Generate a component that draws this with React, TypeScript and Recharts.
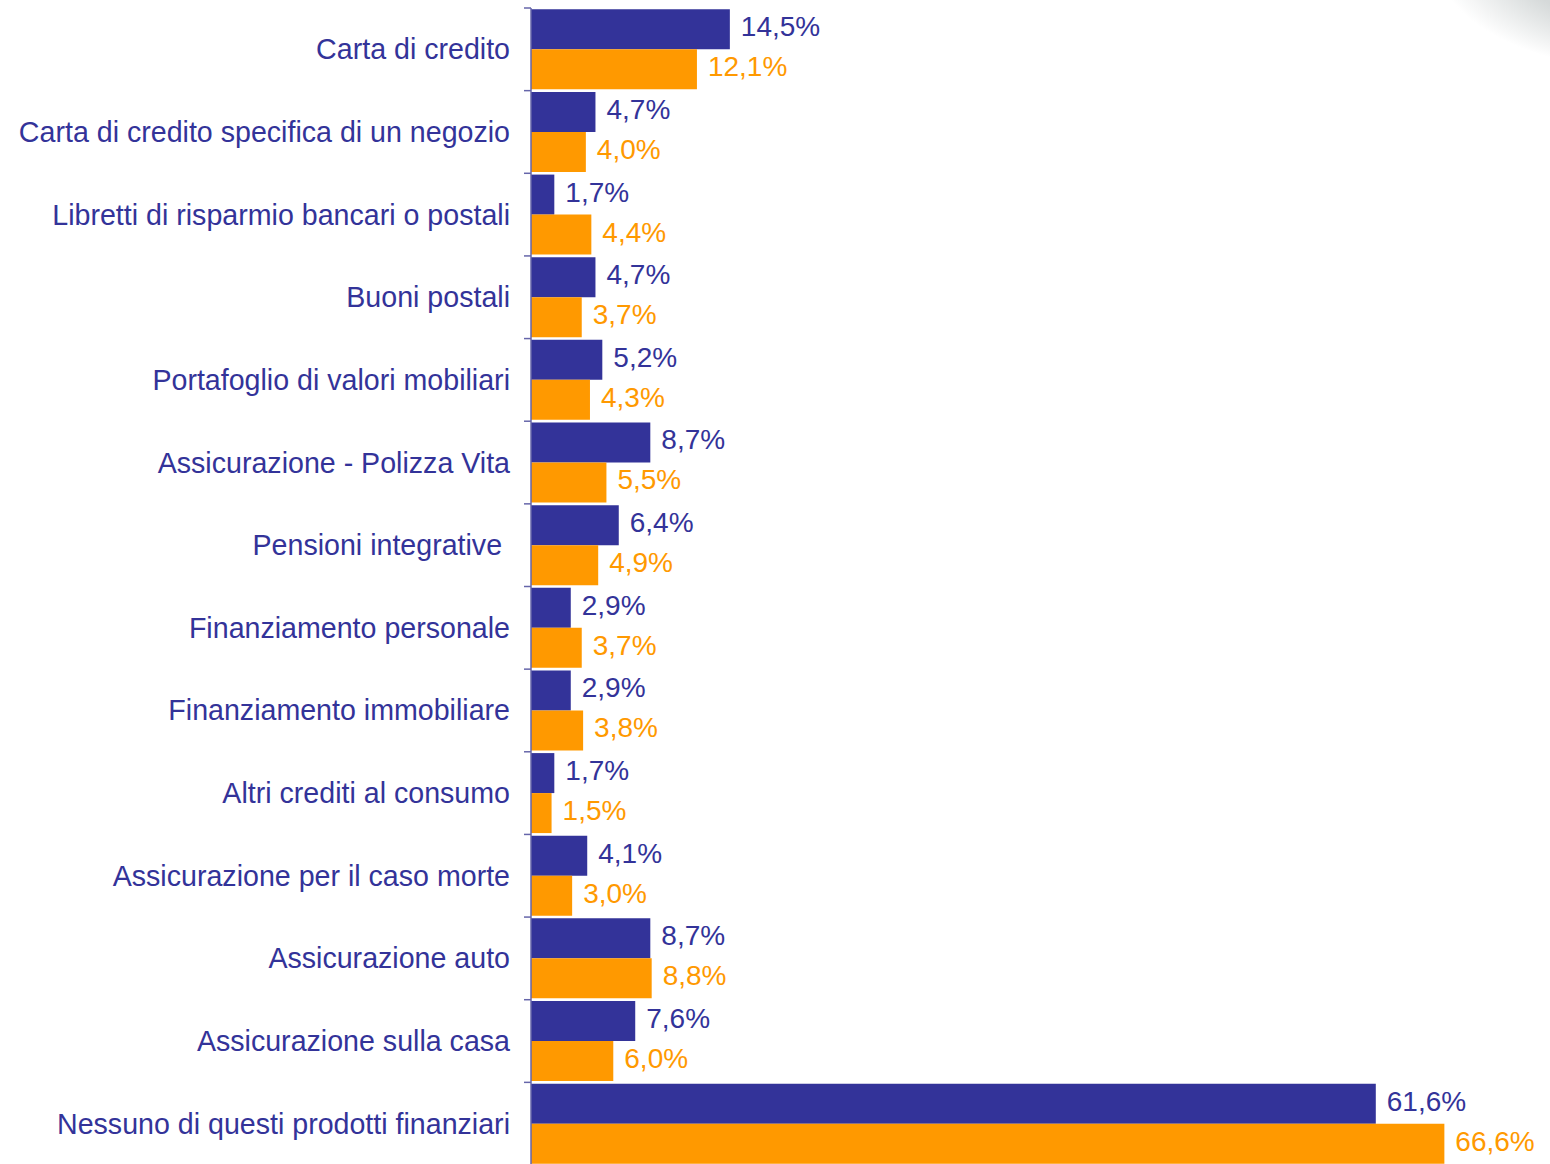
import { BarChart, Bar, XAxis, YAxis, LabelList } from "recharts";

const categories = [
  "Carta di credito",
  "Carta di credito specifica di un negozio",
  "Libretti di risparmio bancari o postali",
  "Buoni postali",
  "Portafoglio di valori mobiliari",
  "Assicurazione - Polizza Vita",
  "Pensioni integrative ",
  "Finanziamento personale",
  "Finanziamento immobiliare",
  "Altri crediti al consumo",
  "Assicurazione per il caso morte",
  "Assicurazione auto",
  "Assicurazione sulla casa",
  "Nessuno di questi prodotti finanziari",
];

const seriesA = [14.5, 4.7, 1.7, 4.7, 5.2, 8.7, 6.4, 2.9, 2.9, 1.7, 4.1, 8.7, 7.6, 61.6];
const seriesB = [12.1, 4.0, 4.4, 3.7, 4.3, 5.5, 4.9, 3.7, 3.8, 1.5, 3.0, 8.8, 6.0, 66.6];

const data = categories.map((name, i) => ({ name, a: seriesA[i], b: seriesB[i] }));

const NAVY = "#333399";
const ORANGE = "#FF9900";
const FONT = "'Liberation Sans', Arial, sans-serif";

const W = 1550;
const H = 1170;
const margin = { top: 8, right: 59, bottom: 5, left: 0 };
const band = (H - margin.top - margin.bottom) / categories.length;

const fmt = (v: number) => v.toFixed(1).replace(".", ",") + "%";

function CategoryTick(props: any) {
  const { x, y, payload } = props;
  return (
    <g>
      <line x1={x + 1} x2={x + 8} y1={y - band / 2} y2={y - band / 2} stroke="#6666aa" strokeWidth={1.5} />
      <text
        x={x - 13}
        y={y}
        textAnchor="end"
        dominantBaseline="central"
        fill={NAVY}
        fontSize={28.6}
        fontFamily={FONT}
        style={{ whiteSpace: "pre" }}
      >
        {payload.value}
      </text>
    </g>
  );
}

export default function App() {
  return (
    <div
      style={{
        position: "absolute",
        left: 0,
        top: 0,
        width: W,
        height: 1164,
        overflow: "hidden",
        background:
          "radial-gradient(ellipse 280px 140px at 1660px -40px, #d5d9d9 50%, rgba(255,255,255,0) 80%), #ffffff",
      }}
    >
      <BarChart
        width={W}
        height={H}
        data={data}
        layout="vertical"
        margin={margin}
        barGap={0}
        barCategoryGap={1.3}
      >
        <XAxis type="number" domain={[0, 70]} hide />
        <YAxis
          type="category"
          dataKey="name"
          width={531}
          axisLine={{ stroke: "#6666aa", strokeWidth: 1.5 }}
          tickLine={false}
          tick={<CategoryTick />}
          interval={0}
        />
        <Bar dataKey="a" fill={NAVY} isAnimationActive={false}>
          <LabelList
            dataKey="a"
            position="right"
            offset={11}
            dy={-3}
            formatter={(v: any) => fmt(Number(v))}
            style={{ fill: NAVY, fontSize: 28, fontFamily: FONT }}
          />
        </Bar>
        <Bar dataKey="b" fill={ORANGE} isAnimationActive={false}>
          <LabelList
            dataKey="b"
            position="right"
            offset={11}
            dy={-3}
            formatter={(v: any) => fmt(Number(v))}
            style={{ fill: ORANGE, fontSize: 28, fontFamily: FONT }}
          />
        </Bar>
      </BarChart>
    </div>
  );
}
